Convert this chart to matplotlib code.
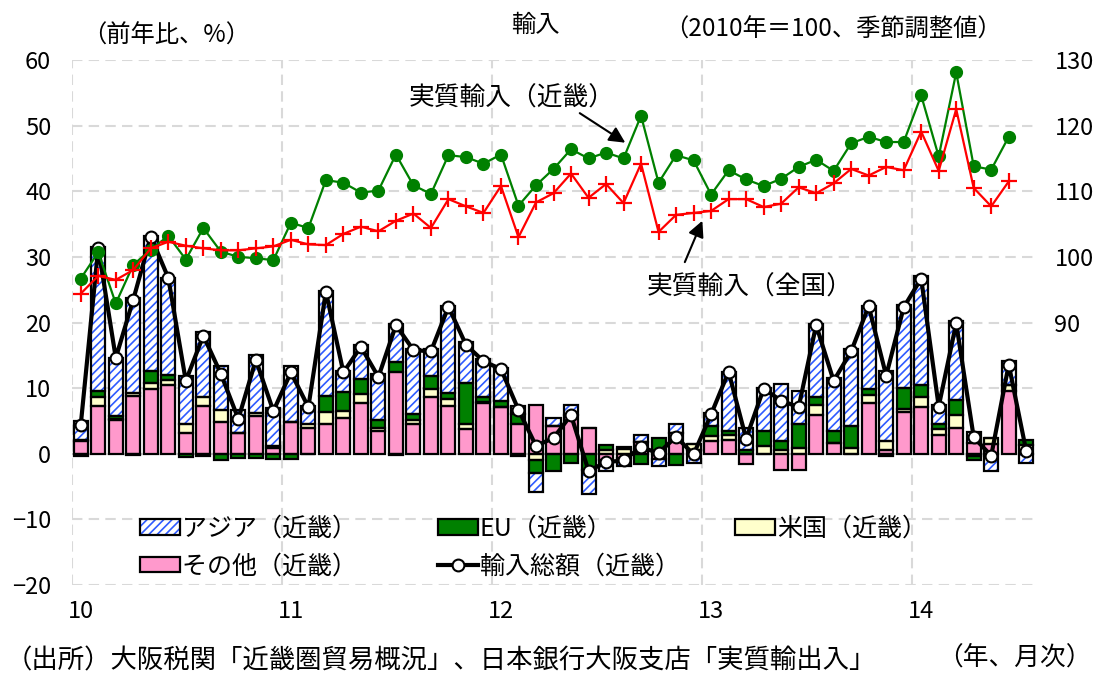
import matplotlib
matplotlib.use('Agg')
import matplotlib.pyplot as plt
import numpy as np
from matplotlib.patches import Patch
from matplotlib.lines import Line2D

plt.rcParams['font.family'] = ['Noto Sans CJK JP', 'DejaVu Sans']
plt.rcParams['hatch.linewidth'] = 1.2

# ---- data (Jan 2010 - Jul 2014, monthly) ----
year_labels = ['10', '11', '12', '13', '14']

# y/y contributions (%), Kinki imports
other = [2.0, 7.3, 5.1, 8.8, 9.8, 10.5, 3.1, 7.3, 4.9, 3.1, 5.8, 0.9,
         4.8, 4.0, 4.5, 5.5, 7.7, 3.4, 12.5, 4.6, 8.7, 7.3, 3.8, 7.7,
         7.2, 4.6, 7.4, 4.2, 5.9, 3.9, -1.0, -0.6, 1.8, -0.8, 3.2, 0.5,
         1.9, 2.1, -1.5, 0.0, -2.4, -2.4, 5.9, 1.6, 0.0, 7.7, 0.6, 6.3,
         7.2, 2.9, 3.9, 1.6, 1.5, 9.5, 0.0]
us = [-0.3, 1.3, 0.2, 0.5, 1.0, 0.8, 1.5, 1.3, 1.8, 0.1, 0.4, 0.3,
      0.0, 0.5, 1.8, 1.0, 1.4, 0.5, -0.2, 0.5, 1.2, 1.0, 0.8, 0.2,
      0.0, -0.4, -1.0, 0.0, 0.0, 0.0, 0.5, 0.7, 0.0, 0.0, 0.0, 1.0,
      0.8, 0.8, 0.0, 1.2, 0.6, 0.9, 1.5, 0.0, 0.9, 1.3, 1.3, 0.5,
      1.5, 0.8, 2.0, -0.4, 0.9, 1.0, 1.3]
eu = [0.1, 0.9, 0.5, -0.2, 1.8, 0.7, -0.5, -0.4, -1.0, -0.6, -0.7, -0.8,
      -0.8, -0.1, 2.5, 2.9, 2.3, 1.3, 1.5, 0.9, 2.0, 1.0, 6.2, 0.7,
      0.8, 1.4, -1.9, -2.7, -1.4, -2.4, 0.9, 0.3, -1.5, 2.4, -1.7, 0.0,
      1.5, 0.5, 0.6, 2.3, 1.4, 3.6, 1.3, 1.9, 3.3, 0.8, -0.3, 3.2,
      1.8, 0.9, 2.3, -0.5, 0.0, 0.0, 0.8]
asia = [2.9, 22.0, 8.8, 14.5, 20.6, 14.8, 7.3, 10.0, 6.7, 3.4, 8.9, 5.8,
        8.6, 2.8, 16.0, 3.2, 5.1, 6.9, 5.7, 9.9, 4.1, 13.2, 6.2, 5.8,
        5.1, 1.3, -3.0, 1.3, 1.6, -3.8, -1.6, -1.3, 1.0, -1.0, 1.4, -1.4,
        2.0, 9.1, 3.3, 6.5, 8.6, 5.0, 11.0, 8.1, 11.7, 12.7, 10.7, 12.6,
        16.6, 2.9, 12.0, 1.7, -2.7, 3.6, -1.4]
total = [4.4, 31.4, 14.6, 23.5, 33.1, 26.8, 11.1, 18.0, 12.2, 5.3, 14.3, 6.5,
         12.4, 7.1, 24.7, 12.4, 16.3, 11.7, 19.6, 15.8, 15.6, 22.4, 16.6, 14.1,
         12.9, 6.7, 1.2, 2.4, 5.9, -2.6, -1.3, -1.0, 1.0, 0.1, 2.6, -0.1,
         6.0, 12.5, 2.3, 9.9, 8.1, 7.1, 19.6, 11.1, 15.6, 22.5, 11.9, 22.3,
         26.7, 7.2, 19.9, 2.5, -0.3, 13.6, 0.4]

# real imports index (2010=100, s.a.), Jan 2010 - Jun 2014
real_kinki = [96.7, 100.7, 92.9, 98.8, 101.1, 103.2, 99.6, 104.4, 100.8, 100.0, 99.8, 99.5,
              105.2, 104.4, 111.7, 111.3, 109.8, 110.1, 115.6, 110.9, 109.6, 115.5, 115.2, 114.2,
              115.6, 107.8, 110.9, 113.4, 116.4, 115.0, 115.9, 115.0, 121.5, 111.3, 115.5, 114.7,
              109.5, 113.2, 111.8, 110.8, 111.9, 113.7, 114.8, 113.1, 117.3, 118.3, 117.5, 117.5,
              124.6, 115.3, 128.1, 113.8, 113.3, 118.3]
real_japan = [94.4, 97.1, 96.5, 98.0, 101.3, 102.3, 101.7, 101.3, 101.0, 101.0, 101.3, 101.6,
              102.6, 101.9, 101.8, 103.5, 104.6, 103.9, 105.5, 106.6, 104.4, 108.8, 107.7, 106.7,
              110.8, 103.0, 108.3, 109.7, 112.7, 109.0, 111.1, 108.2, 114.2, 103.8, 106.4, 106.7,
              107.0, 108.8, 108.8, 107.6, 108.1, 110.6, 109.7, 111.2, 113.4, 112.4, 113.7, 113.2,
              119.1, 113.1, 122.5, 110.5, 107.7, 111.5]

n = len(total)
x = np.arange(n)

W, H = 1105, 675
fig = plt.figure(figsize=(W / 100, H / 100), dpi=100)
ax = fig.add_axes([72 / W, 90 / H, (1035 - 72) / W, (585 - 60) / H])

grid_kw = dict(color='#D9D9D9', lw=1.5, linestyle=(0, (5, 3)))
hatch_col = '#2E5BFF'

# stacked bars: その他 bottom, 米国, EU, アジア top
pos = np.zeros(n)
neg = np.zeros(n)
bw = 0.8
for vals, fc, hatched in [(other, '#FF99CC', False), (us, '#FFFFCC', False),
                          (eu, '#008000', False), (asia, 'white', True)]:
    v = np.array(vals, dtype=float)
    base = np.where(v >= 0, pos, neg)
    if hatched:
        ax.bar(x, v, bw, bottom=base, facecolor='white', edgecolor=hatch_col,
               hatch='////', lw=0, zorder=2)
    else:
        ax.bar(x, v, bw, bottom=base, color=fc, lw=0, zorder=2)
    ax.bar(x, v, bw, bottom=base, fill=False, edgecolor='black', lw=1.6, zorder=3)
    pos += np.where(v >= 0, v, 0)
    neg += np.where(v < 0, v, 0)

ax.plot(x, total, color='black', lw=3, marker='o', ms=8.5, mfc='white',
        mec='black', mew=1.5, zorder=5)

ax.set_xlim(-0.5, n - 0.5)
ax.set_ylim(-20, 60)
ax.set_yticks(np.arange(-20, 61, 10))
ax.set_xticks(np.arange(0, n, 12))
ax.set_xticklabels(year_labels)
ax.set_xticks(np.arange(-0.5, n, 12), minor=True)
ax.set_axisbelow(True)
ax.grid(axis='y', which='major', **grid_kw)
ax.grid(axis='x', which='minor', **grid_kw)
ax.tick_params(axis='both', which='both', length=0, labelsize=17)
ax.tick_params(axis='y', pad=15)
ax.tick_params(axis='x', pad=11)
for s in ax.spines.values():
    s.set_visible(False)

ax2 = ax.twinx()
ax2.set_ylim(50, 130)
ax2.set_yticks([90, 100, 110, 120, 130])
ax2.tick_params(axis='y', length=0, labelsize=17, pad=14)
for s in ax2.spines.values():
    s.set_visible(False)
xi = x[:len(real_kinki)]
ax2.plot(xi, real_kinki, color='#008000', lw=1.6, marker='o', ms=8.5, zorder=4)
ax2.plot(xi, real_japan, color='red', lw=1.6, marker='+', ms=11, mew=1.6, zorder=5)

arr = dict(arrowstyle='-|>', color='black', lw=1.5, mutation_scale=24,
           shrinkA=0, shrinkB=0)
ax2.annotate('', xy=(31.1, 117.4), xytext=(28.5, 121.9), arrowprops=arr)
ax2.text(24.6, 124.2, '実質輸入（近畿）', ha='center', va='center', fontsize=18.5)
ax2.annotate('', xy=(35.5, 105.5), xytext=(34.5, 99.2), arrowprops=arr)
ax2.text(38.2, 95.4, '実質輸入（全国）', ha='center', va='center', fontsize=18.5)

# legend
h_asia = (Patch(facecolor='white', edgecolor=hatch_col, hatch='////', lw=0),
          Patch(fill=False, edgecolor='black', lw=1.6))
h_other = Patch(facecolor='#FF99CC', edgecolor='black', lw=1.6)
h_eu = Patch(facecolor='#008000', edgecolor='black', lw=1.6)
h_tot = Line2D([], [], color='black', lw=3, marker='o', ms=8.5, mfc='white',
               mec='black', mew=1.5)
h_us = Patch(facecolor='#FFFFCC', edgecolor='black', lw=1.6)
handles = [h_asia, h_other, h_eu, h_tot, h_us]
labels = ['アジア（近畿）\u3000', 'その他（近畿）\u3000', 'EU（近畿）',
          '輸入総額（近畿）', '米国（近畿）']
fig.legend(handles, labels, ncol=3, loc='upper left',
           bbox_to_anchor=(140 / W, 1 - 516 / H), bbox_transform=fig.transFigure,
           frameon=False, fontsize=18, handlelength=1.6, handleheight=0.6,
           handletextpad=0.1, columnspacing=2.2, labelspacing=0.45,
           borderpad=0, borderaxespad=0)

fig.text(82 / W, 1 - 36 / H, '（前年比、%）', ha='left', va='center', fontsize=17.5)
fig.text(535 / W, 1 - 25 / H, '輸入', ha='center', va='center', fontsize=17.5)
fig.text(1002 / W, 1 - 30 / H, '（2010年＝100、季節調整値）', ha='right', va='center', fontsize=17.5)
fig.text(6 / W, 1 - 661 / H, '（出所）大阪税関「近畿圏貿易概況」、日本銀行大阪支店「実質輸出入」',
         ha='left', va='center', fontsize=19)
fig.text(1092 / W, 1 - 658 / H, '（年、月次）', ha='right', va='center', fontsize=18.5)

fig.savefig('out.png', dpi=100)
